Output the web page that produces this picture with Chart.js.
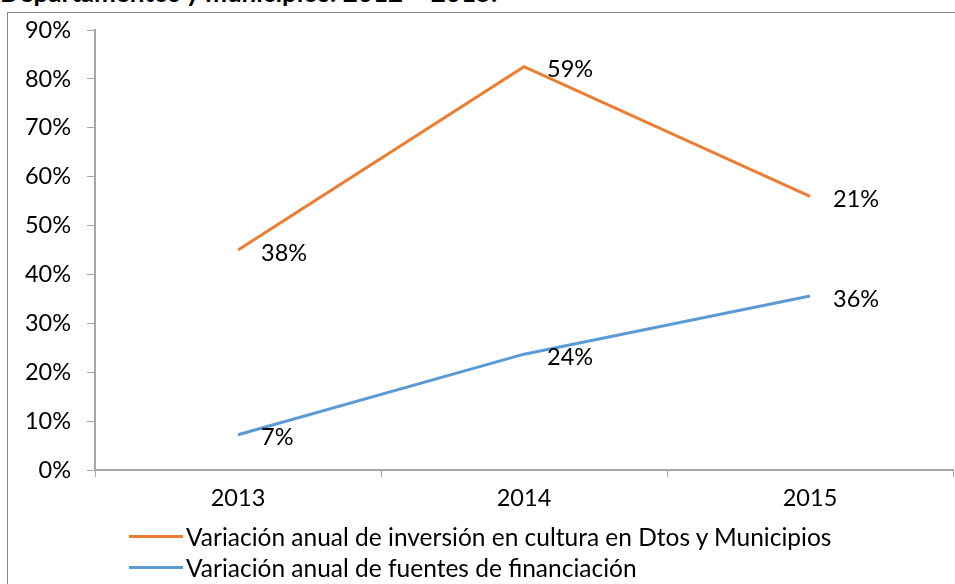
<!DOCTYPE html>
<html>
<head>
<meta charset="utf-8">
<script src="https://cdn.jsdelivr.net/npm/chart.js@4/dist/chart.umd.min.js"></script>
<style>
  body { margin: 0; background: #fff; }
  #wrap { position: relative; width: 955px; height: 584px; overflow: hidden; font-family: Lato, 'Open Sans', sans-serif; }
  #title { position: absolute; left: 0; top: -23px; font-weight: bold; font-size: 26px; line-height: 30px; white-space: nowrap; color: #000; }
  #box { position: absolute; left: 7px; top: 12px; width: 970px; height: 600px; border: 1px solid #878787; }
  #chart-holder { position: absolute; left: 0; top: 0; width: 955px; height: 584px; }
  #legend { position: absolute; left: 129px; top: 521px; font-size: 24.5px; color: #000; }
  .leg-row { display: flex; align-items: center; height: 31px; white-space: nowrap; }
  .leg-line { width: 54px; height: 3px; margin-right: 3px; }
</style>
</head>
<body>
<div id="wrap">
  <div id="title">Departamentos y municipios: 2012 – 2015.</div>
  <div id="box"></div>
  <div id="chart-holder"><canvas id="my-chart" width="955" height="584"></canvas></div>
  <div id="legend"></div>
</div>
<script>
'use strict';

// *************** DATA
let years = ['2013', '2014', '2015'];
let seriesNames = [
  'Variación anual de inversión en cultura en Dtos y Municipios',
  'Variación anual de fuentes de financiación'
];
let inversionValues = [45, 82.5, 56];
let fuentesValues = [7.2, 23.7, 35.6];
// labels shown next to each point (as printed in the original)
let inversionLabels = ['38%', '59%', '21%'];
let fuentesLabels = ['7%', '24%', '36%'];
let yTicks = [0, 10, 20, 30, 40, 50, 60, 70, 80, 90];

let colors = ['#ED7D31', '#5B9BD5'];
let axisColor = '#a6a6a6';
let fontFamily = 'Lato, "Open Sans", sans-serif';

// *************** POINT LABELS PLUGIN
let pointLabels = {
  id: 'pointLabels',
  afterDatasetsDraw(chart) {
    let ctx = chart.ctx;
    ctx.save();
    ctx.font = '23.5px ' + fontFamily;
    ctx.fillStyle = '#000';
    ctx.textAlign = 'left';
    ctx.textBaseline = 'middle';
    chart.data.datasets.forEach(function (ds, i) {
      let meta = chart.getDatasetMeta(i);
      meta.data.forEach(function (pt, j) {
        ctx.fillText(ds.pointText[j], pt.x + 23, pt.y + 3);
      });
    });
    ctx.restore();
  }
};

let chartObj = {
  type: 'line',
  data: {
    labels: years,
    datasets: [{
      label: seriesNames[0],
      data: inversionValues,
      pointText: inversionLabels,
      borderColor: colors[0],
      backgroundColor: colors[0],
      borderWidth: 3,
      pointRadius: 0,
      tension: 0
    },
    {
      label: seriesNames[1],
      data: fuentesValues,
      pointText: fuentesLabels,
      borderColor: colors[1],
      backgroundColor: colors[1],
      borderWidth: 3,
      pointRadius: 0,
      tension: 0
    }]
  },
  options: {
    responsive: false,
    animation: false,
    layout: { padding: { top: 30, right: 2, left: 0, bottom: 0 } },
    plugins: {
      legend: { display: false },
      tooltip: { enabled: false },
      title: { display: false }
    },
    scales: {
      x: {
        offset: true,
        grid: {
          offset: true,
          drawOnChartArea: false,
          drawTicks: true,
          tickLength: 7,
          color: axisColor
        },
        border: { color: axisColor, width: 2 },
        ticks: { color: '#000', font: { size: 23.5, family: fontFamily }, padding: 7 },
        afterFit: function (s) { s.height = 114; }
      },
      y: {
        min: 0,
        max: 90,
        afterBuildTicks: function (s) { s.ticks = yTicks.map(v => ({ value: v })); },
        grid: {
          drawOnChartArea: false,
          drawTicks: true,
          tickLength: 8,
          color: axisColor
        },
        border: { color: axisColor, width: 2 },
        ticks: {
          color: '#000',
          font: { size: 23.5, family: fontFamily },
          padding: 16,
          callback: function (v) { return v + '%'; }
        },
        afterFit: function (s) { s.width = 95; }
      }
    }
  },
  plugins: [pointLabels]
};

let ctx = document.getElementById('my-chart').getContext('2d');
let myChart = new Chart(ctx, chartObj);

// *************** LEGEND (HTML)
let legend = document.getElementById('legend');
seriesNames.forEach(function (name, i) {
  let row = document.createElement('div');
  row.className = 'leg-row';
  row.innerHTML = '<span class="leg-line" style="background:' + colors[i] + '"></span><span>' + name + '</span>';
  legend.appendChild(row);
});
</script>
</body>
</html>
